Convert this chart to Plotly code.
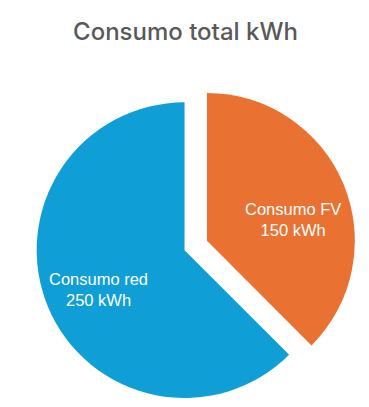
import plotly.graph_objects as go

labels = ["Consumo FV", "Consumo red"]
values = [150, 250]
colors = ["#E97132", "#0F9ED5"]
pulls = [0.082, 0.082]
title_text = "Consumo total kWh"
unit = "kWh"

W, H = 369, 407

fig = go.Figure(go.Pie(
    labels=labels,
    values=values,
    sort=False,
    direction="clockwise",
    rotation=0,
    pull=pulls,
    marker=dict(colors=colors, line=dict(width=0)),
    textinfo="none",
    hoverinfo="label+value",
    domain=dict(x=[27.75 / W, 347.75 / W], y=[(H - 397.5) / H, (H - 77.5) / H]),
    showlegend=False,
))

# data labels (pixel positions of each label block centre, converted to paper coords)
label_pos_px = [(284.5, 211.5), (90, 281.5)]
for lab, val, (px, py) in zip(labels, values, label_pos_px):
    fig.add_annotation(
        x=px / W, y=1 - py / H, xref="paper", yref="paper",
        xanchor="center", yanchor="middle", showarrow=False,
        text=f"{lab}<br>{val} {unit}",
        font=dict(family="Liberation Sans, Arial, sans-serif", size=16.5, color="white"),
    )

fig.update_layout(
    width=W, height=H,
    margin=dict(l=0, r=0, t=0, b=0),
    paper_bgcolor="white",
    plot_bgcolor="white",
    title=dict(text=title_text, x=177.5 / W, xanchor="center",
               y=1 - 24 / H, yanchor="middle",
               font=dict(family="Inter, Open Sans, sans-serif", size=24, weight=500, color="#595959")),
)

fig.write_html("out.html")
